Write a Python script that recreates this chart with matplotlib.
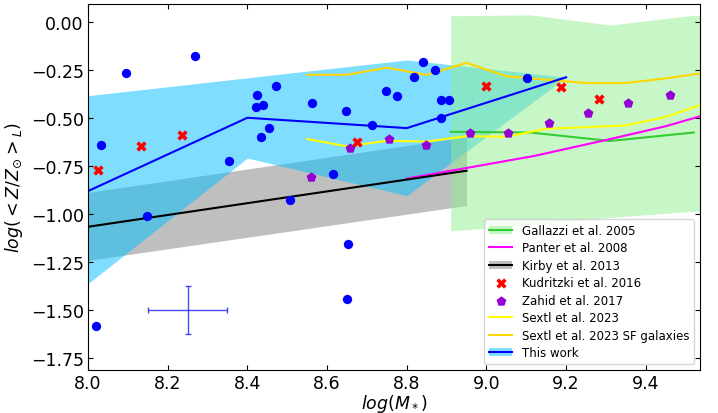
import numpy as np
import matplotlib
matplotlib.use("Agg")
import matplotlib.pyplot as plt

# --- This work: individual galaxies ---
tw_mass = [8.033, 8.095, 8.268, 8.423, 8.421, 8.438, 8.473, 8.455, 8.434, 8.354,
           8.562, 8.647, 8.616, 8.506, 8.148, 8.021, 8.653, 8.649, 8.712, 8.748,
           8.775, 8.819, 8.841, 8.872, 8.886, 8.905, 8.886, 9.102]
tw_met = [-0.643, -0.270, -0.181, -0.383, -0.444, -0.437, -0.336, -0.555, -0.603, -0.728,
          -0.426, -0.464, -0.794, -0.931, -1.013, -1.588, -1.161, -1.447, -0.537, -0.360,
          -0.386, -0.287, -0.213, -0.253, -0.410, -0.409, -0.501, -0.293]

# --- This work: binned relation and its spread ---
bin_mass = [8.0, 8.4, 8.8, 9.2]
bin_met = [-0.883, -0.501, -0.555, -0.290]
bin_upper = [-0.386, -0.293, -0.200, -0.290]
bin_lower = [-1.365, -0.711, -0.907, -0.290]

# typical uncertainty
err_x, err_y = 8.25, -1.5
err_dx, err_dy = 0.1, 0.125

# --- Gallazzi et al. 2005 ---
gal_mass = [8.91, 9.11, 9.31, 9.52]
gal_met = [-0.574, -0.578, -0.622, -0.578]
gal_fill_mass = [8.91, 9.11, 9.31, 9.52, 9.60]
gal_upper = [0.030, 0.035, -0.018, 0.033, 0.035]
gal_lower = [-1.090, -1.060, -1.020, -0.988, -0.975]

# --- Panter et al. 2008 ---
pan_mass = [8.80, 9.12, 9.30, 9.45, 9.60]
pan_met = [-0.818, -0.700, -0.617, -0.545, -0.455]

# --- Kirby et al. 2013 ---
kir_mass = [8.0, 8.95]
kir_met = [-1.069, -0.777]
kir_upper = [-0.890, -0.600]
kir_lower = [-1.244, -0.958]

# --- Kudritzki et al. 2016 ---
kud_mass = [8.024, 8.133, 8.237, 8.674, 8.999, 9.187, 9.283]
kud_met = [-0.772, -0.650, -0.589, -0.629, -0.338, -0.339, -0.404]

# --- Zahid et al. 2017 ---
zah_mass = [8.559, 8.657, 8.755, 8.848, 8.959, 9.053, 9.157, 9.255, 9.355, 9.460]
zah_met = [-0.812, -0.660, -0.610, -0.645, -0.582, -0.581, -0.529, -0.477, -0.426, -0.383]

# --- Sextl et al. 2023 ---
sex_mass = [8.55, 8.65, 8.75, 8.85, 8.95, 9.05, 9.15, 9.25, 9.35, 9.45, 9.55]
sex_met = [-0.612, -0.650, -0.621, -0.625, -0.597, -0.600, -0.558, -0.550, -0.541, -0.497, -0.425]
sexsf_met = [-0.277, -0.277, -0.240, -0.278, -0.215, -0.285, -0.303, -0.320, -0.320, -0.296, -0.266]

fig = plt.figure(figsize=(7.18, 4.14), dpi=100)
ax = fig.add_axes([0.1226, 0.1039, 0.8524, 0.8847])

# shaded bands
kir_fill = ax.fill_between(kir_mass, kir_lower, kir_upper, color="gray", alpha=0.5, lw=0, zorder=1)
tw_fill = ax.fill_between(bin_mass, bin_lower, bin_upper, color="deepskyblue", alpha=0.5, lw=0, zorder=1.1)
gal_fill = ax.fill_between(gal_fill_mass, gal_lower, gal_upper, color="lightgreen", alpha=0.5, lw=0, zorder=1.2)

# relations
gal_line, = ax.plot(gal_mass, gal_met, color="limegreen", lw=1.5, zorder=2)
pan_line, = ax.plot(pan_mass, pan_met, color="magenta", lw=1.5, zorder=2)
kir_line, = ax.plot(kir_mass, kir_met, color="black", lw=1.5, zorder=2)
sex_line, = ax.plot(sex_mass, sex_met, color="yellow", lw=1.5, zorder=2)
sexsf_line, = ax.plot(sex_mass, sexsf_met, color="gold", lw=1.5, zorder=2)
tw_line, = ax.plot(bin_mass, bin_met, color="blue", lw=1.5, zorder=2)

# points
zah = ax.scatter(zah_mass, zah_met, marker="p", s=55, color="darkviolet", lw=0, zorder=3)
kud = ax.scatter(kud_mass, kud_met, marker="X", s=55, color="red", lw=0, zorder=3.1)
ax.scatter(tw_mass, tw_met, marker="o", s=45, color="blue", lw=0, zorder=3.2)

ax.errorbar(err_x, err_y, xerr=err_dx, yerr=err_dy, color="blue", alpha=0.7,
            lw=1, capsize=2, zorder=3)

ax.set_xlim(8.0, 9.536)
ax.set_ylim(-1.815, 0.093)
ax.set_xticks([8.0, 8.2, 8.4, 8.6, 8.8, 9.0, 9.2, 9.4])
ax.set_yticks([0.0, -0.25, -0.5, -0.75, -1.0, -1.25, -1.5, -1.75])
ax.set_xticklabels(["8.0", "8.2", "8.4", "8.6", "8.8", "9.0", "9.2", "9.4"])
ax.set_yticklabels(["0.00", "\u22120.25", "\u22120.50", "\u22120.75", "\u22121.00",
                    "\u22121.25", "\u22121.50", "\u22121.75"])
ax.tick_params(direction="in", top=True, right=True, labelsize=12.5, pad=3)

ax.set_xlabel(r"$log(M_*)$", fontsize=12.5, labelpad=0)
ax.set_ylabel(r"$log(<Z/Z_{\odot}>_L)$", fontsize=12.5)

handles = [(gal_fill, gal_line), pan_line, (kir_fill, kir_line), kud, zah,
           sex_line, sexsf_line, (tw_fill, tw_line)]
labels = ["Gallazzi et al. 2005", "Panter et al. 2008", "Kirby et al. 2013",
          "Kudritzki et al. 2016", "Zahid et al. 2017", "Sextl et al. 2023",
          "Sextl et al. 2023 SF galaxies", "This work"]
ax.legend(handles, labels, loc="lower right", fontsize=8.5, labelspacing=0.38)

fig.savefig("out.png", dpi=100)
